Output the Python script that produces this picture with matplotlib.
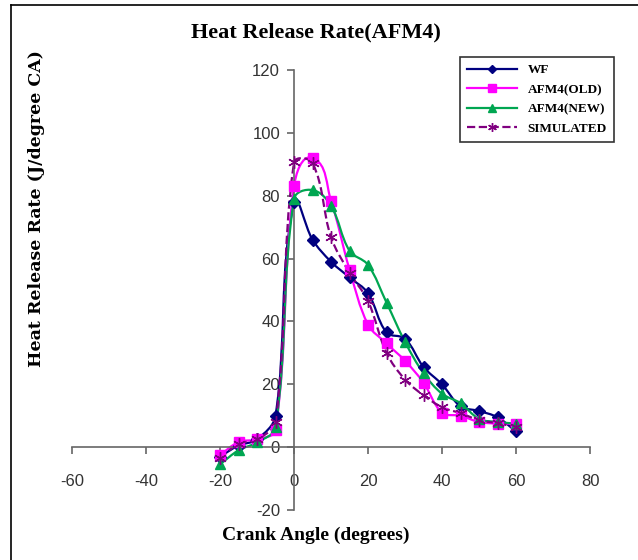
import matplotlib
matplotlib.use("Agg")
import matplotlib.pyplot as plt
import numpy as np
from matplotlib.lines import Line2D
from matplotlib.patches import PathPatch
from matplotlib.path import Path

plt.rcParams["axes.unicode_minus"] = False

crank_angle = [-20, -15, -10, -5, 0, 5, 10, 15, 20, 25, 30, 35, 40, 45, 50, 55, 60]
wf = [-3, 0.5, 2.5, 10, 78, 66, 59, 54, 49, 36.5, 34.5, 25.5, 20, 13, 11.5, 9.5, 5]
afm4_old = [-2.5, 1.6, 2.5, 5.4, 83, 92, 78.4, 56.5, 39, 33, 27.5, 20.5, 11, 10, 8, 7.5, 7.5]
afm4_new = [-5.5, -1, 1.5, 6.3, 79, 81.8, 76.8, 62.5, 58, 46, 33.5, 23.5, 17, 14, 9, 8, 7.5]
simulated = [-3.5, 1, 2.5, 8, 90.6, 90.4, 66.8, 55.5, 46.5, 30, 21.5, 16.5, 12.7, 10.8, 8.6, 7.6, 6.4]

series = [
    ("WF", wf, "#000080", "D", 6, "-"),
    ("AFM4(OLD)", afm4_old, "#FF00FF", "s", 7.5, "-"),
    ("AFM4(NEW)", afm4_new, "#00A651", "^", 7.5, "-"),
    ("SIMULATED", simulated, "#800080", (6, 2, 0), 9, "--"),
]


def smooth_path(ax, xs, ys, tension=0.35):
    """Excel-like smoothed line, control points built in screen space."""
    pts = ax.transData.transform(np.column_stack([xs, ys]).astype(float))
    n = len(pts)
    tangents = []
    for i in range(n):
        d = pts[min(i + 1, n - 1)] - pts[max(i - 1, 0)]
        norm = np.hypot(*d)
        tangents.append(d / norm if norm > 0 else d)
    verts = [pts[0]]
    codes = [Path.MOVETO]
    for i in range(n - 1):
        seg = np.hypot(*(pts[i + 1] - pts[i]))
        c1 = pts[i] + tangents[i] * seg * tension
        c2 = pts[i + 1] - tangents[i + 1] * seg * tension
        verts += [c1, c2, pts[i + 1]]
        codes += [Path.CURVE4] * 3
    data_verts = ax.transData.inverted().transform(np.array(verts))
    return Path(data_verts, codes)


fig = plt.figure(figsize=(6.38, 5.6), dpi=100)
ax = fig.add_axes([72 / 638, 1 - 510 / 560, (590 - 72) / 638, (510 - 70) / 560])
ax.set_xlim(-60, 80)
ax.set_ylim(-20, 120)

handles = []
for label, values, color, marker, msize, ls in series:
    patch = PathPatch(smooth_path(ax, crank_angle, values), facecolor="none",
                      edgecolor=color, lw=1.6, linestyle=ls, zorder=2)
    ax.add_patch(patch)
    ax.plot(crank_angle, values, linestyle="none", marker=marker, markersize=msize,
            color=color, markeredgecolor=color, markeredgewidth=1.0, zorder=3)
    handles.append(Line2D([], [], color=color, lw=1.6, linestyle=ls, marker=marker,
                          markersize=msize * 0.7, markeredgecolor=color))

ax.set_xticks(range(-60, 81, 20))
ax.set_yticks(range(-20, 121, 20))
ax.spines["left"].set_position(("data", 0))
ax.spines["bottom"].set_position(("data", 0))
ax.spines["right"].set_visible(False)
ax.spines["top"].set_visible(False)
for side in ("left", "bottom"):
    ax.spines[side].set_color("#666666")
    ax.spines[side].set_linewidth(1.2)
ax.tick_params(axis="x", direction="out", length=5, width=1.2, color="#666666",
               pad=14, labelsize=12, labelcolor="#333333")
ax.tick_params(axis="y", direction="out", length=5, width=1.2, color="#666666",
               pad=5, labelsize=12, labelcolor="#333333")
for lab in ax.get_xticklabels() + ax.get_yticklabels():
    lab.set_fontfamily("Liberation Sans")
ax.patch.set_alpha(0)

fig.text(0.495, 1 - 32 / 560, "Heat Release Rate(AFM4)", ha="center", va="center",
         fontsize=16, fontweight="bold", family="Liberation Serif")
fig.text(316 / 638, 1 - 535 / 560, "Crank Angle (degrees)", ha="center", va="center",
         fontsize=14, fontweight="bold", family="Liberation Serif")
fig.text(37 / 638, 1 - 209 / 560, "Heat Release Rate (J/degree CA)", ha="center",
         va="center", rotation=90, fontsize=12.5, fontweight="bold",
         family=["DejaVu Serif"])

leg = fig.legend(handles, [s[0] for s in series], loc="upper right",
                 bbox_to_anchor=(614 / 638, 1 - 57 / 560), borderaxespad=0,
                 frameon=True, fancybox=False, edgecolor="black", handlelength=3.8,
                 prop={"family": "Liberation Serif", "weight": "bold", "size": 9.5},
                 labelspacing=0.55, borderpad=0.55)
leg.get_frame().set_linewidth(1.2)

# outer frame lines (top and left, as in the source image)
fig.add_artist(Line2D([11 / 638, 11 / 638], [0, 1 - 5 / 560], transform=fig.transFigure,
                      color="black", lw=1.2))
fig.add_artist(Line2D([11 / 638, 1], [1 - 5 / 560, 1 - 5 / 560], transform=fig.transFigure,
                      color="black", lw=1.2))

fig.savefig("out.png", dpi=100)
